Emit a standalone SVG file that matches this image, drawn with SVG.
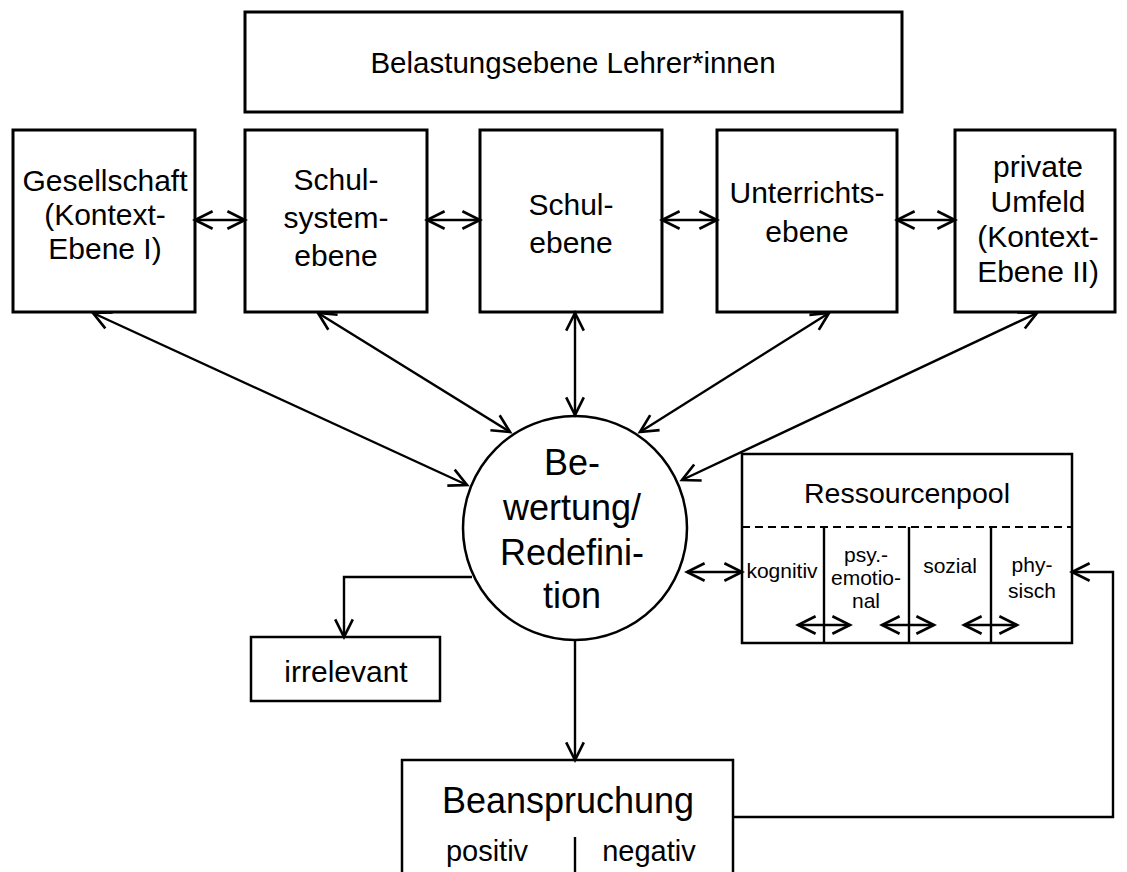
<svg xmlns="http://www.w3.org/2000/svg" width="1127" height="872" viewBox="0 0 1127 872">
<style>
text{font-family:"Liberation Sans",Arial,sans-serif;fill:#000;text-anchor:middle}
.big{font-size:30px}
.sm{font-size:21px}
.box{fill:#fff;stroke:#000;stroke-width:3}
.box2{fill:#fff;stroke:#000;stroke-width:2.5}
.ln{fill:none;stroke:#000;stroke-width:2.4}
.arr{marker-end:url(#ah)}
.dbl{marker-start:url(#ah);marker-end:url(#ah)}
</style>
<defs>
<marker id="ah" markerUnits="userSpaceOnUse" markerWidth="22" markerHeight="22" refX="17" refY="9" orient="auto-start-reverse" viewBox="0 0 20 18">
<path d="M1,1 L17,9 L1,17" fill="none" stroke="#000" stroke-width="2.4"/>
</marker>
</defs>
<g id="belastungsebene">
<rect class="box" x="245" y="12" width="657" height="100"/>
<text class="big" x="573" y="73" style="font-size:29.5px">Belastungsebene Lehrer*innen</text>
</g>
<g id="gesellschaft">
<rect class="box" x="13" y="130" width="182" height="182"/>
<text class="big" x="105" y="191">Gesellschaft</text>
<text class="big" x="105" y="225">(Kontext-</text>
<text class="big" x="105" y="259">Ebene I)</text>
</g>
<g id="schulsystemebene">
<rect class="box" x="245" y="130" width="182" height="182"/>
<text class="big" x="336" y="190">Schul-</text>
<text class="big" x="336" y="228">system-</text>
<text class="big" x="336" y="266">ebene</text>
</g>
<g id="schulebene">
<rect class="box" x="480" y="130" width="182" height="182"/>
<text class="big" x="571" y="215">Schul-</text>
<text class="big" x="571" y="253">ebene</text>
</g>
<g id="unterrichtsebene">
<rect class="box" x="717" y="130" width="180" height="182"/>
<text class="big" x="807" y="203">Unterrichts-</text>
<text class="big" x="807" y="242">ebene</text>
</g>
<g id="privates-umfeld">
<rect class="box" x="955" y="130" width="160" height="182"/>
<text class="big" x="1038" y="177">private</text>
<text class="big" x="1038" y="212">Umfeld</text>
<text class="big" x="1038" y="247">(Kontext-</text>
<text class="big" x="1038" y="282">Ebene II)</text>
</g>
<g id="bewertung">
<circle cx="575" cy="528" r="112" fill="#fff" stroke="#000" stroke-width="2.5"/>
<text x="572" y="475" style="font-size:36px">Be-</text>
<text x="572" y="520" style="font-size:36px">wertung/</text>
<text x="572" y="565" style="font-size:36px">Redefini-</text>
<text x="572" y="608" style="font-size:36px">tion</text>
</g>
<g id="ressourcenpool">
<rect class="box2" x="742" y="454" width="330" height="189"/>
<line x1="742" y1="527" x2="1072" y2="527" stroke="#000" stroke-width="2" stroke-dasharray="8,5"/>
<line class="ln" x1="824" y1="527" x2="824" y2="643"/>
<line class="ln" x1="909" y1="527" x2="909" y2="643"/>
<line class="ln" x1="991" y1="527" x2="991" y2="643"/>
<text x="907" y="503" style="font-size:28.5px">Ressourcenpool</text>
<text class="sm" x="782" y="578">kognitiv</text>
<text class="sm" x="866" y="562">psy.-</text>
<text class="sm" x="866" y="585">emotio-</text>
<text class="sm" x="866" y="608">nal</text>
<text class="sm" x="950" y="573">sozial</text>
<text class="sm" x="1032" y="572">phy-</text>
<text class="sm" x="1032" y="598">sisch</text>
</g>
<g id="irrelevant">
<rect class="box2" x="251" y="637" width="189" height="64"/>
<text class="big" x="346" y="682">irrelevant</text>
</g>
<g id="beanspruchung">
<rect class="box2" x="402" y="760" width="331" height="130"/>
<text x="568" y="813" style="font-size:36px">Beanspruchung</text>
<text x="487" y="861" style="font-size:29px">positiv</text>
<text x="649" y="861" style="font-size:29px">negativ</text>
<line class="ln" x1="575" y1="837" x2="575" y2="872"/>
</g>
<g id="connectors">
<line class="ln dbl" x1="195" y1="220" x2="245" y2="220"/>
<line class="ln dbl" x1="427" y1="220" x2="480" y2="220"/>
<line class="ln dbl" x1="662" y1="220" x2="717" y2="220"/>
<line class="ln dbl" x1="897" y1="220" x2="955" y2="220"/>
<line class="ln dbl" x1="93" y1="313" x2="467" y2="485"/>
<line class="ln dbl" x1="318" y1="313" x2="510" y2="432"/>
<line class="ln dbl" x1="575" y1="313" x2="575" y2="415"/>
<line class="ln dbl" x1="829" y1="313" x2="640" y2="432"/>
<line class="ln dbl" x1="1037" y1="313" x2="682" y2="480"/>
<line class="ln dbl" x1="687" y1="572" x2="742" y2="572"/>
<line class="ln dbl" x1="798" y1="625" x2="850" y2="625"/>
<line class="ln dbl" x1="882" y1="625" x2="934" y2="625"/>
<line class="ln dbl" x1="964" y1="625" x2="1017" y2="625"/>
<polyline class="ln arr" points="472,577 344,577 344,637"/>
<line class="ln arr" x1="575" y1="640" x2="575" y2="760"/>
<polyline class="ln arr" points="733,817 1113,817 1113,572 1072,572"/>
</g>
</svg>
